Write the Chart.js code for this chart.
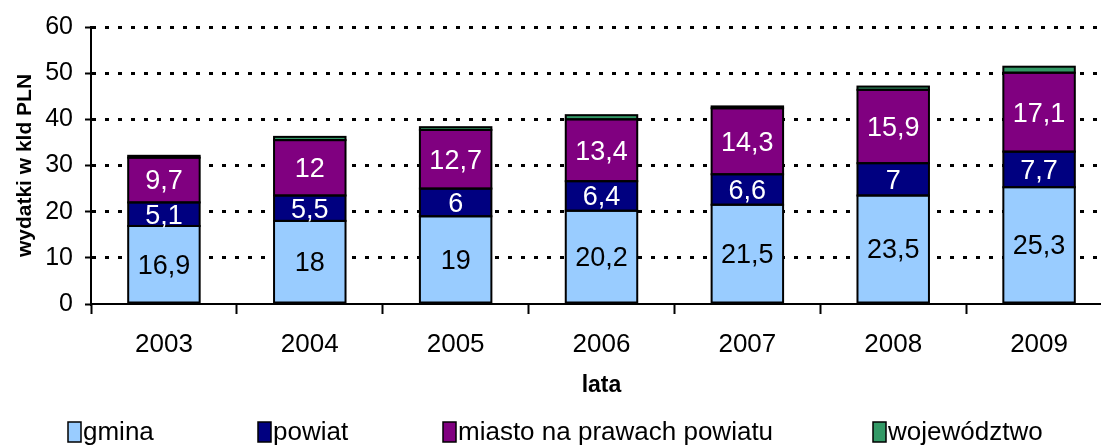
<!DOCTYPE html>
<html>
<head>
<meta charset="utf-8">
<script src="https://cdn.jsdelivr.net/npm/chart.js@4.4.1/dist/chart.umd.min.js"></script>
<style>
  html, body { margin: 0; padding: 0; background: #fff; overflow: hidden; }
  #wrap { position: relative; width: 1130px; height: 446px; }
</style>
</head>
<body>
<div id="wrap"><canvas id="chart"></canvas></div>
<script>
// Data (mld PLN)
const years = ['2003', '2004', '2005', '2006', '2007', '2008', '2009'];
const gmina = [16.9, 18, 19, 20.2, 21.5, 23.5, 25.3];
const powiat = [5.1, 5.5, 6, 6.4, 6.6, 7, 7.7];
const miasto = [9.7, 12, 12.7, 13.4, 14.3, 15.9, 17.1];
const wojewodztwo = [0.4, 0.7, 0.6, 0.9, 0.4, 0.7, 1.3];

const FONT = "Arial, 'Liberation Sans', sans-serif";

// Excel-style outlines (stroke centred on the segment edges) + value labels
const segmentLabels = {
  id: 'segmentLabels',
  afterDatasetsDraw(chart) {
    const ctx = chart.ctx;
    ctx.save();
    ctx.strokeStyle = '#000';
    ctx.lineWidth = 2;
    chart.data.datasets.forEach((ds, i) => {
      chart.getDatasetMeta(i).data.forEach(bar => {
        const left = bar.x - bar.width / 2;
        ctx.strokeRect(left, bar.y, bar.width, bar.base - bar.y);
      });
    });
    ctx.font = '27px ' + FONT;
    ctx.textAlign = 'center';
    ctx.textBaseline = 'middle';
    chart.data.datasets.forEach((ds, i) => {
      if (ds.showValues === false) return;
      chart.getDatasetMeta(i).data.forEach((bar, j) => {
        const text = String(ds.data[j]).replace('.', ',');
        ctx.fillStyle = ds.labelColor;
        ctx.fillText(text, bar.x, (bar.y + bar.base) / 2 + 2);
      });
    });
    ctx.restore();
  }
};

// Bottom legend with Excel-like spacing
const legendX = [68, 258, 443, 873];
const bottomLegend = {
  id: 'bottomLegend',
  afterDraw(chart) {
    const ctx = chart.ctx;
    ctx.save();
    ctx.font = '26px ' + FONT;
    ctx.textBaseline = 'middle';
    chart.data.datasets.forEach((ds, i) => {
      const x = legendX[i];
      const y = 432;
      ctx.fillStyle = ds.backgroundColor;
      ctx.fillRect(x, y - 10, 13, 20);
      ctx.strokeStyle = '#000';
      ctx.lineWidth = 1.5;
      ctx.strokeRect(x, y - 10, 13, 20);
      ctx.fillStyle = '#000';
      ctx.fillText(ds.label, x + 15, y + 1);
    });
    ctx.restore();
  }
};

new Chart(document.getElementById('chart'), {
  type: 'bar',
  data: {
    labels: years,
    datasets: [
      { label: 'gmina', data: gmina, backgroundColor: '#99CCFF', labelColor: '#000' },
      { label: 'powiat', data: powiat, backgroundColor: '#000080', labelColor: '#fff' },
      { label: 'miasto na prawach powiatu', data: miasto, backgroundColor: '#800080', labelColor: '#fff' },
      { label: 'województwo', data: wojewodztwo, backgroundColor: '#339966', showValues: false }
    ].map(ds => Object.assign({
      borderWidth: 0,
      categoryPercentage: 1,
      barPercentage: 0.49
    }, ds))
  },
  options: {
    responsive: true,
    maintainAspectRatio: false,
    animation: false,
    layout: { padding: { top: 23, right: 18, bottom: 47, left: 0 } },
    plugins: {
      legend: { display: false },
      tooltip: { enabled: false }
    },
    scales: {
      x: {
        stacked: true,
        grid: {
          drawOnChartArea: false,
          drawTicks: true,
          tickLength: 10,
          tickWidth: 2,
          tickColor: '#000',
          offset: true
        },
        border: { color: '#000', width: 2 },
        ticks: {
          color: '#000',
          font: { family: FONT, size: 26 },
          padding: 15
        },
        title: {
          display: true,
          text: 'lata',
          color: '#000',
          font: { family: FONT, size: 23, weight: 'bold' },
          padding: { top: 0, bottom: 0 }
        },
        afterFit(scale) { scale.height = 95; }
      },
      y: {
        stacked: true,
        min: 0,
        max: 60,
        ticks: {
          stepSize: 10,
          color: '#000',
          font: { family: FONT, size: 25 },
          padding: 12
        },
        grid: {
          color: ctx => ctx.tick && ctx.tick.value === 0 ? 'rgba(0,0,0,0)' : '#000',
          lineWidth: 3,
          drawTicks: true,
          tickLength: 6,
          tickWidth: 2,
          tickColor: '#000'
        },
        border: { color: '#000', width: 2, dash: [4, 9] },
        title: {
          display: true,
          text: 'wydatki w kld PLN',
          color: '#000',
          font: { family: FONT, size: 21, weight: 'bold' },
          padding: { top: 13, bottom: 0 }
        },
        afterFit(scale) { scale.width = 91; }
      }
    }
  },
  plugins: [segmentLabels, bottomLegend]
});
</script>
</body>
</html>
